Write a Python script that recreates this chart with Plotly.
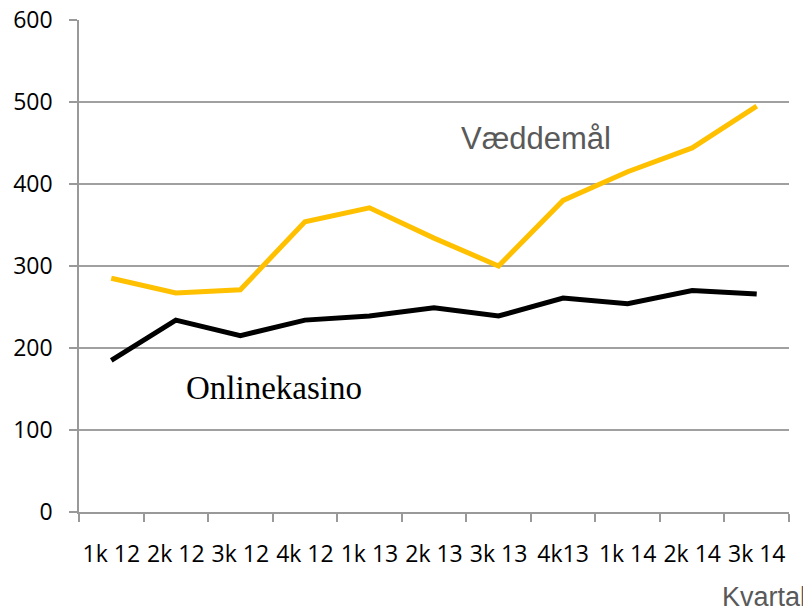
import plotly.graph_objects as go

quarters = ["1k 12", "2k 12", "3k 12", "4k 12", "1k 13", "2k 13", "3k 13", "4k13", "1k 14", "2k 14", "3k 14"]
vaeddemaal = [285, 267, 271, 354, 371, 334, 300, 380, 415, 444, 495]
onlinekasino = [185, 234, 215, 234, 239, 249, 239, 261, 254, 270, 266]

fig = go.Figure()
fig.add_trace(go.Scatter(x=quarters, y=vaeddemaal, mode="lines", name="Væddemål",
                         line=dict(color="#FFC000", width=5)))
fig.add_trace(go.Scatter(x=quarters, y=onlinekasino, mode="lines", name="Onlinekasino",
                         line=dict(color="#000000", width=5)))

fig.add_annotation(x=6.585, y=456, xref="x", yref="y", text="Væddemål", showarrow=False,
                   font=dict(family="Liberation Sans", size=31, color="#595959"))
fig.add_annotation(x=2.515, y=151, xref="x", yref="y", text="Onlinekasino", showarrow=False,
                   font=dict(family="Liberation Serif", size=33, color="#000000"))
fig.add_annotation(x=1.027, y=-0.173, xref="paper", yref="paper", text="Kvartal", showarrow=False,
                   xanchor="right", yanchor="middle",
                   font=dict(family="Liberation Sans", size=27, color="#595959"))

fig.update_layout(
    width=811, height=612,
    margin=dict(l=71, r=30, t=12, b=108),
    plot_bgcolor="white", paper_bgcolor="white",
    showlegend=False,
    font=dict(family="Open Sans", size=23, color="#000000"),
)
fig.update_xaxes(type="category", tickson="boundaries", ticks="outside", ticklen=8, tickcolor="#999999",
                 tickwidth=1.5, showline=True, linecolor="#999999", linewidth=1.5, showgrid=False,
                 automargin=False, ticklabelstandoff=21, range=[-0.5, 10.5], tickangle=0,
                 ticklabeloverflow="allow", tickfont=dict(family="Open Sans", size=23))
fig.update_yaxes(range=[0, 600], dtick=100, ticks="outside", ticklen=8, tickcolor="#999999", tickwidth=1.5,
                 showline=True, linecolor="#999999", linewidth=1.5, showgrid=True, gridcolor="#a0a0a0",
                 gridwidth=1.5, zeroline=False, automargin=False, ticklabelstandoff=12,
                 ticklabeloverflow="allow", tickfont=dict(family="Open Sans", size=23))

fig.write_html("out.html")
